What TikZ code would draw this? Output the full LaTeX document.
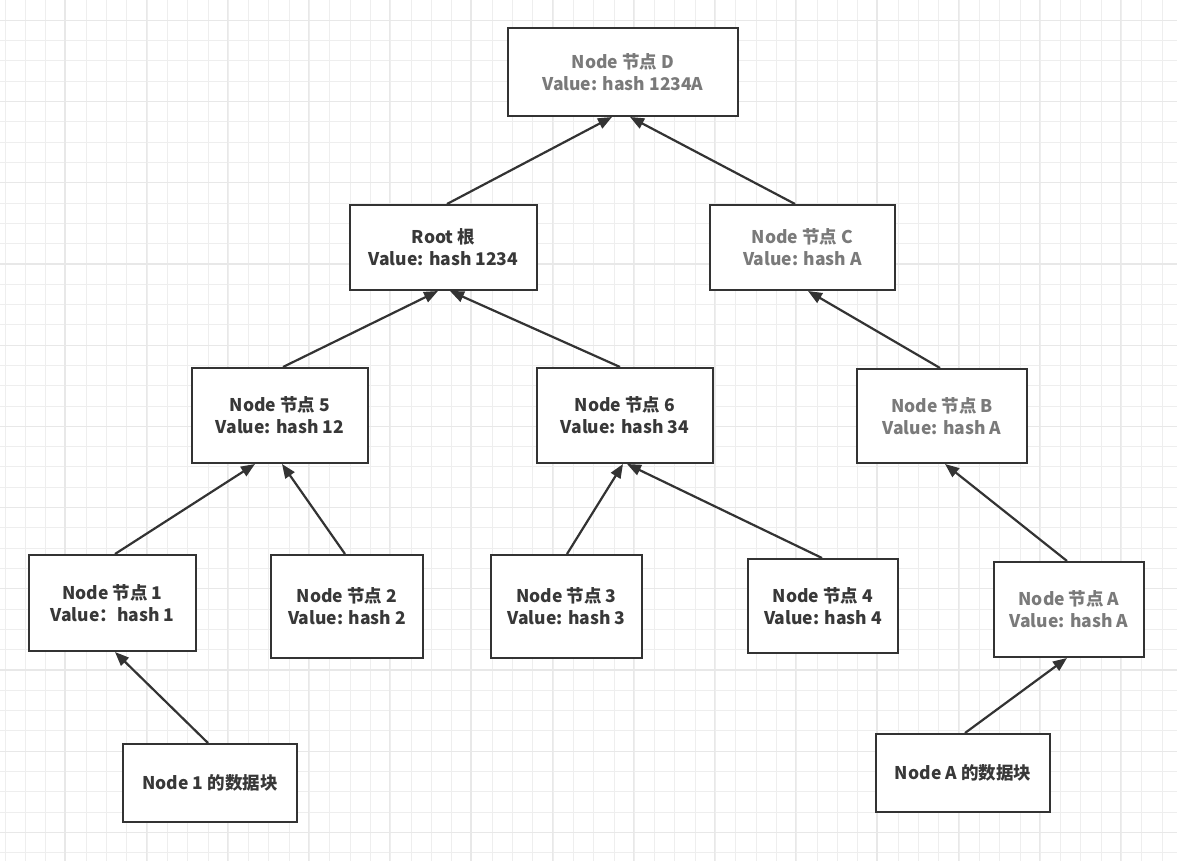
\documentclass[tikz,border=0pt]{standalone}
\usepackage{fontspec}
\setmainfont{Noto Sans CJK SC}
\usetikzlibrary{arrows.meta}
\definecolor{boxline}{HTML}{333333}
\definecolor{darktext}{HTML}{383838}
\definecolor{greytext}{HTML}{7A7A7A}
\definecolor{gridminor}{HTML}{EEEEEE}
\definecolor{gridmajor}{HTML}{E8E8E8}
\tikzset{
  box/.style={draw=boxline, line width=2pt, fill=white, align=center, inner sep=0pt,
    font=\fontsize{17.5}{22}\selectfont\bfseries, text=darktext},
  greybox/.style={box, text=greytext},
  link/.style={draw=boxline, line width=2.2pt, -{Triangle[length=14pt,width=11pt]}},
  minorgrid/.style={draw=gridminor, line width=1pt},
  majorgrid/.style={draw=gridmajor, line width=1.2pt}
}
\begin{document}
\begin{tikzpicture}[x=1pt,y=-1pt]
\useasboundingbox (0,0) rectangle (1177,861);
\fill[white] (0,0) rectangle (1177,861);
% grid
\foreach \i in {0,...,58} {
  \pgfmathsetmacro{\gx}{5+20.3*\i}
  \draw[minorgrid] (\gx,0) -- (\gx,861);
}
\foreach \i in {0,...,42} {
  \pgfmathsetmacro{\gy}{20.3*\i}
  \draw[minorgrid] (0,\gy) -- (1177,\gy);
}
\foreach \i in {0,...,14} {
  \pgfmathsetmacro{\gx}{65-81.2+81.2*\i}
  \draw[majorgrid] (\gx,0) -- (\gx,861);
}
\foreach \i in {0,...,10} {
  \pgfmathsetmacro{\gy}{20.3+81.2*\i}
  \draw[majorgrid] (0,\gy) -- (1177,\gy);
}
% nodes
\node[greybox, minimum width=230pt, minimum height=88pt] (D) at (623,72) {Node 节点 D\\Value: hash 1234A};
\node[box, minimum width=187pt, minimum height=85pt] (R) at (443.5,247.5) {Root 根\\Value: hash 1234};
\node[greybox, minimum width=185pt, minimum height=85pt] (C) at (802.5,247.5) {Node 节点 C\\Value: hash A};
\node[box, minimum width=176pt, minimum height=95pt] (N5) at (280,415.5) {Node 节点 5\\Value: hash 12};
\node[box, minimum width=176pt, minimum height=95pt] (N6) at (625,415.5) {Node 节点 6\\Value: hash 34};
\node[greybox, minimum width=170pt, minimum height=94pt] (B) at (942,416) {Node 节点 B\\Value: hash A};
\node[box, minimum width=167pt, minimum height=96pt] (N1) at (112.5,603) {Node 节点 1\\Value：hash 1};
\node[box, minimum width=152pt, minimum height=103pt] (N2) at (347,606.5) {Node 节点 2\\Value: hash 2};
\node[box, minimum width=151pt, minimum height=103pt] (N3) at (566.5,606.5) {Node 节点 3\\Value: hash 3};
\node[box, minimum width=150pt, minimum height=94pt] (N4) at (823,606) {Node 节点 4\\Value: hash 4};
\node[greybox, minimum width=150pt, minimum height=95pt] (A) at (1069,609.5) {Node 节点 A\\Value: hash A};
\node[box, minimum width=174pt, minimum height=78pt] (D1) at (210,783) {Node 1 的数据块};
\node[box, minimum width=174pt, minimum height=78pt] (DA) at (963,773) {Node A 的数据块};
% connectors
\draw[link] ([xshift=3.5pt]R.north) -- ([xshift=-11pt]D.south);
\draw[link] ([xshift=-7.5pt]C.north) -- ([xshift=7pt]D.south);
\draw[link] ([xshift=3pt]N5.north) -- ([xshift=-5.5pt]R.south);
\draw[link] ([xshift=-5pt]N6.north) -- ([xshift=6.5pt]R.south);
\draw[link] ([xshift=-2pt]B.north) -- ([xshift=5.5pt]C.south);
\draw[link] ([xshift=2.5pt]N1.north) -- ([xshift=-25pt]N5.south);
\draw[link] ([xshift=-2pt]N2.north) -- ([xshift=2pt]N5.south);
\draw[link] ([xshift=0.5pt]N3.north) -- ([xshift=-2pt]N6.south);
\draw[link] ([xshift=-1pt]N4.north) -- ([xshift=2pt]N6.south);
\draw[link] ([xshift=-2pt]A.north) -- ([xshift=3pt]B.south);
\draw[link] ([xshift=-2pt]D1.north) -- ([xshift=2.5pt]N1.south);
\draw[link] ([xshift=2pt]DA.north) -- ([xshift=-2pt]A.south);
\end{tikzpicture}
\end{document}
